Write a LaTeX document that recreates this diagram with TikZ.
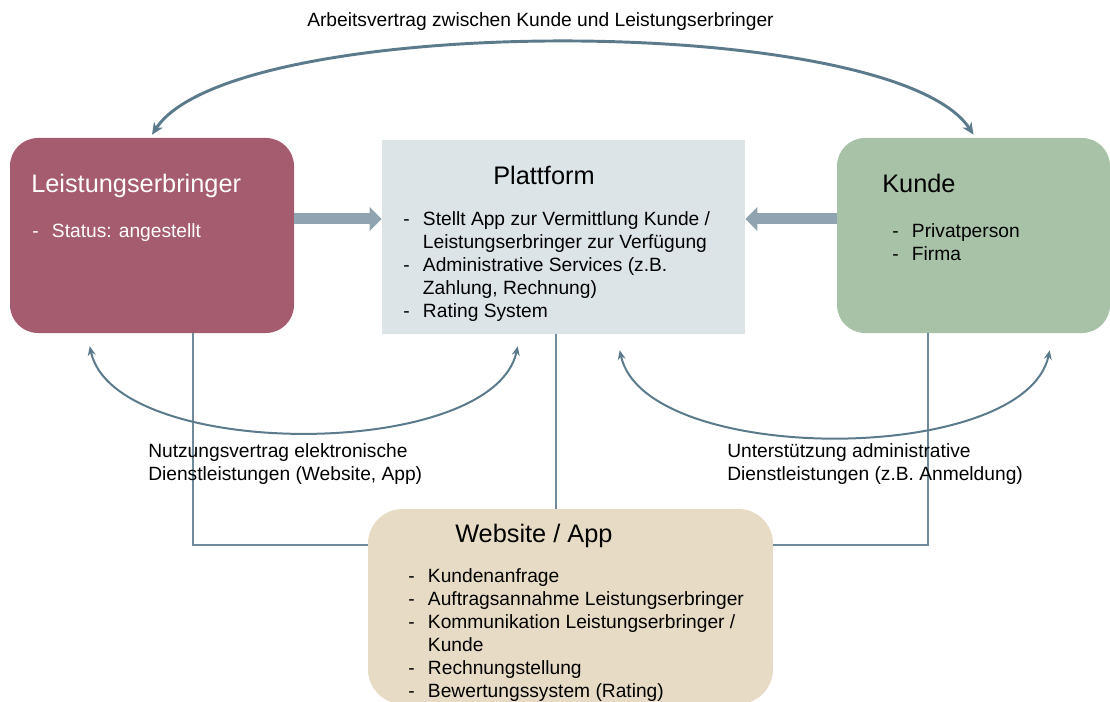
\documentclass[tikz,border=0pt]{standalone}
\usepackage{fontspec}
\setmainfont{Liberation Sans}
\usetikzlibrary{arrows.meta,calc,positioning}
\definecolor{roseparty}{HTML}{A65C6F}
\definecolor{platgray}{HTML}{DDE4E8}
\definecolor{sageparty}{HTML}{A8C2A7}
\definecolor{websand}{HTML}{E8DBC5}
\definecolor{feedgray}{HTML}{8FA4B0}
\definecolor{dealblue}{HTML}{5B7B8D}
\definecolor{wiregray}{HTML}{6F8A9A}
\tikzset{party/.style={rounded corners=21pt,inner sep=0pt,minimum height=146.25pt},
  ttl/.style={anchor=base west,inner sep=0pt,font=\fontsize{19}{22}\selectfont},
  lst/.style={anchor=base west,inner sep=0pt,font=\fontsize{14.4}{17.25}\selectfont},
  feed/.style={line width=8.25pt,draw=feedgray,-{Triangle[width=17.25pt,length=9pt]}},
  deal/.style={line width=2.2pt,draw=dealblue,{Stealth[length=9pt,width=8pt]}-{Stealth[length=9pt,width=8pt]}},
  help/.style={line width=1.5pt,draw=dealblue,{Stealth[length=7pt,width=6pt]}-{Stealth[length=7pt,width=6pt]}},
  wire/.style={line width=0.8pt,draw=wiregray}}
\newcommand{\items}[1]{\begin{tabular}[t]{@{}l@{\hspace{10pt}}l@{}}#1\end{tabular}}
\newcommand{\lines}[1]{\begin{tabular}[t]{@{}l@{}}#1\end{tabular}}
\begin{document}
\begin{tikzpicture}[x=0.75pt,y=-0.75pt]
\useasboundingbox (0,0) rectangle (1110,702);
% the four parties
\node[party,fill=roseparty,minimum width=213pt] (leist) at (152,235.5) {};
\node[party,fill=platgray,rounded corners=0pt,minimum width=272.25pt,minimum height=145.5pt] (plat) at (563.5,237) {};
\node[party,fill=sageparty,minimum width=204.75pt] (kunde) at (973.5,235.5) {};
\node[party,fill=websand,rounded corners=26pt,minimum width=303.75pt] (web) at (570.5,606.5) {};
% texts in the boxes
\node[ttl,text=white] (leisttitle) at (31,193) {Leistungserbringer};
\node[lst,text=white] (leistlist) at (32,238) {\items{- & Status: angestellt}};
\node[ttl] (plattitle) at (493,185) {Plattform};
\node[lst] (platlist) at (403,226) {\items{- & Stellt App zur Vermittlung Kunde /\\
  & Leistungserbringer zur Verfügung\\
  - & Administrative Services (z.B.\\
  & Zahlung, Rechnung)\\
  - & Rating System}};
\node[ttl] (kundetitle) at (882,193) {Kunde};
\node[lst] (kundelist) at (892,238) {\items{- & Privatperson\\- & Firma}};
\node[ttl] (webtitle) at (455,542) {Website / App};
\node[lst] (weblist) at (408,582) {\items{- & Kundenanfrage\\
  - & Auftragsannahme Leistungserbringer\\
  - & Kommunikation Leistungserbringer /\\
  & Kunde\\
  - & Rechnungstellung\\
  - & Bewertungssystem (Rating)}};
% wires to the website
\coordinate (jointrow) at (0,545);
\coordinate (midwire) at (556,0);
\draw[wire] ([shift={(41,0)}]leist.south) |- (web.west |- jointrow);
\draw[wire] (plat.south -| midwire) -- (web.north -| midwire);
\draw[wire] ([shift={(-45.5,0)}]kunde.south) |- (web.east |- jointrow);
% relation labels
\node[lst] (worklabel) at (307,27) {Arbeitsvertrag zwischen Kunde und Leistungserbringer};
\node[lst] (uselabel) at (148,457) {\lines{Nutzungsvertrag elektronische\\Dienstleistungen (Website, App)}};
\node[lst] (supportlabel) at (727,457) {\lines{Unterstützung administrative\\Dienstleistungen (z.B. Anmeldung)}};
% relations
\coordinate (feedrow) at (0,219);
\draw[feed] (leist.east |- feedrow) -- (plat.west |- feedrow);
\draw[feed] (kunde.west |- feedrow) -- (plat.east |- feedrow);
\draw[deal] ([shift={(0,-3)}]leist.north) .. controls +(80,-123) and +(-80,-123) .. ([shift={(0,-3)}]kunde.north);
\coordinate (useA) at ([shift={(80,13)}]leist.south west);
\coordinate (useB) at ([shift={(136,12)}]plat.south west);
\coordinate (supA) at ([shift={(238,16)}]plat.south west);
\coordinate (supB) at ([shift={(213,17)}]kunde.south west);
\draw[help] (useA) .. controls +(25,115) and +(-25,115) .. (useB);
\draw[help] (supA) .. controls +(25,116) and +(-25,116) .. (supB);
\end{tikzpicture}
\end{document}
